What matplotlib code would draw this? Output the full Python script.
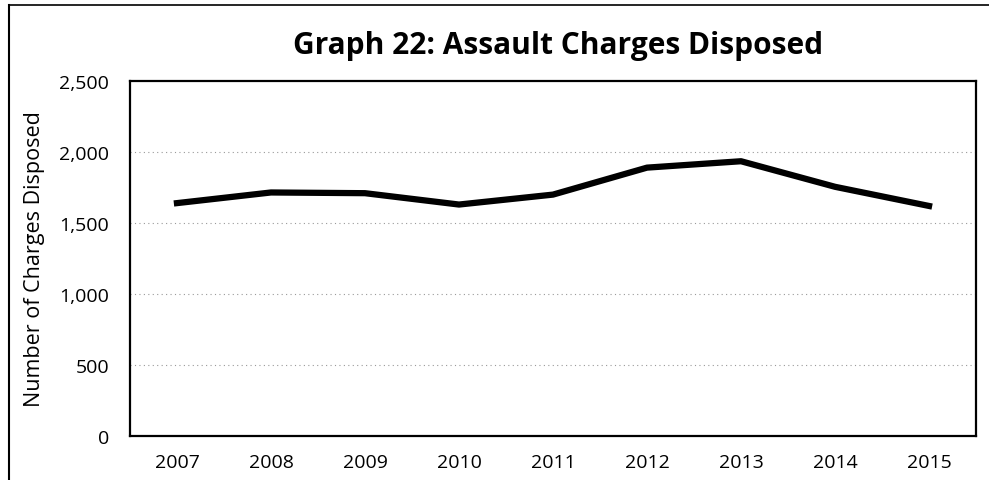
import matplotlib
matplotlib.use("Agg")
import matplotlib.pyplot as plt
from matplotlib.lines import Line2D
from matplotlib.ticker import FuncFormatter

years = ["2007", "2008", "2009", "2010", "2011", "2012", "2013", "2014", "2015"]
charges = [1640, 1715, 1710, 1630, 1700, 1890, 1935, 1755, 1620]
y_ticks = [0, 500, 1000, 1500, 2000, 2500]

plt.rcParams['font.family'] = ['Open Sans', 'DejaVu Sans']

fig = plt.figure(figsize=(9.89, 4.81), dpi=100)
ax = fig.add_axes([0.1314, 0.0915, 0.8555, 0.738])

xs = list(range(len(years)))
ax.plot(xs, charges, color='black', linewidth=4.5, solid_joinstyle='round')

ax.set_xlim(-0.5, len(years) - 0.5)
ax.set_ylim(0, 2500)
ax.set_xticks(xs)
ax.set_xticklabels(years)
ax.set_yticks(y_ticks)
ax.yaxis.set_major_formatter(FuncFormatter(lambda v, p: f"{int(v):,}"))
ax.tick_params(length=0, labelsize=14)
ax.tick_params(axis='x', pad=12)
ax.tick_params(axis='y', pad=15)

for v in y_ticks[1:-1]:
    ax.axhline(v, color='#9a9a9a', linewidth=0.8, linestyle=(0, (1, 3)), zorder=0)

for s in ax.spines.values():
    s.set_linewidth(1.6)
    s.set_color('black')

ax.set_ylabel("Number of Charges Disposed", fontsize=15.5)
ax.yaxis.set_label_coords(-0.1, 0.5)

fig.text(0.564, 0.904, "Graph 22: Assault Charges Disposed", fontsize=21.5,
         fontweight='bold', ha='center', va='center')

# outer frame (top and left edges visible in the scan)
fig.add_artist(Line2D([0.009, 1.0], [0.988, 0.988], transform=fig.transFigure,
                      color='black', linewidth=1.2))
fig.add_artist(Line2D([0.009, 0.009], [0.0, 0.988], transform=fig.transFigure,
                      color='black', linewidth=1.5))

fig.savefig("out.png", dpi=100)
